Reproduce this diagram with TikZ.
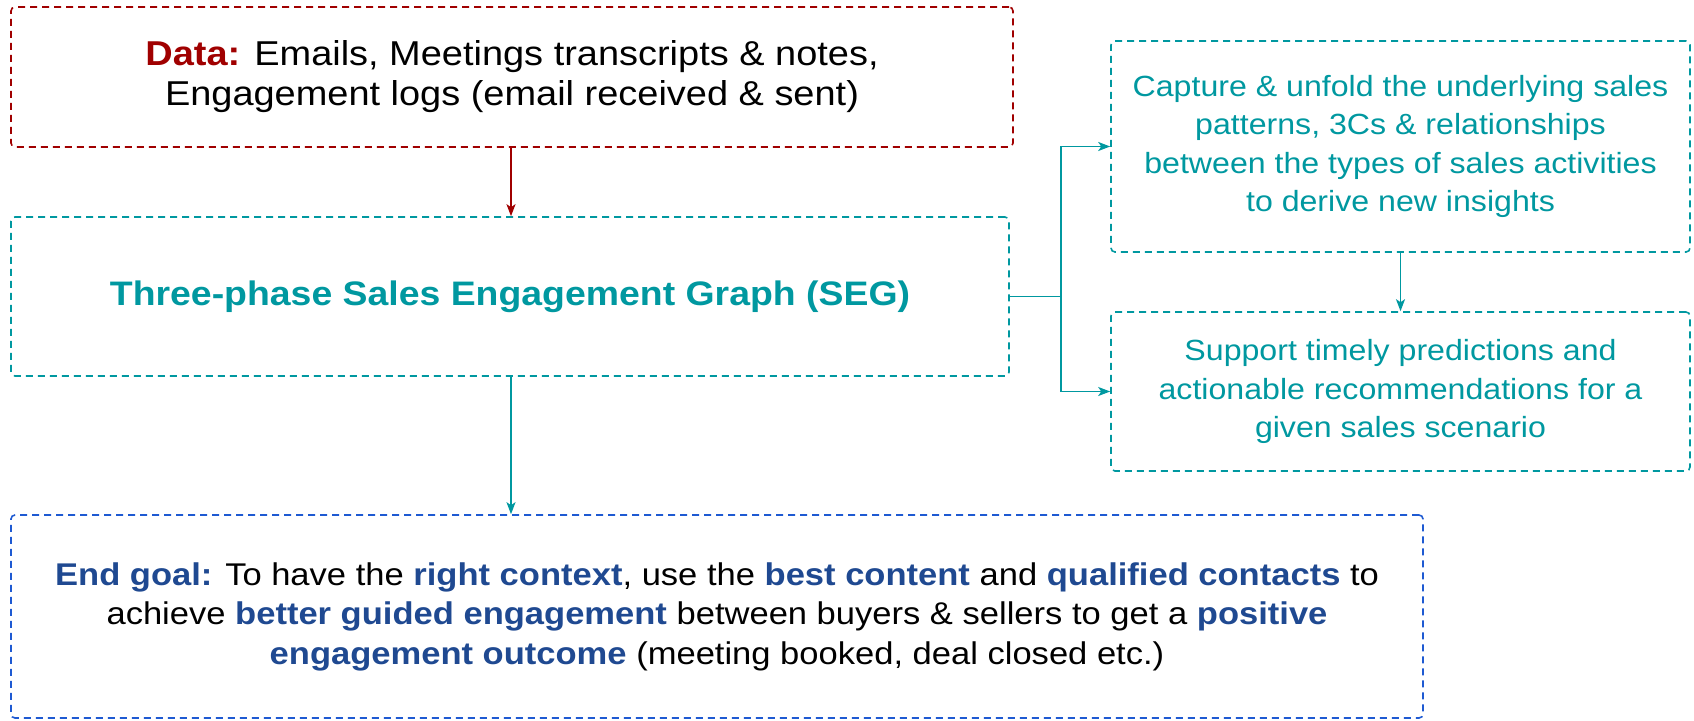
\documentclass[tikz,border=0pt]{standalone}
\usepackage{fontspec}
\setmainfont{Liberation Sans}[FakeStretch=1.1]
\usetikzlibrary{arrows.meta}

\definecolor{datared}{RGB}{160,0,0}
\definecolor{segteal}{RGB}{0,152,160}
\definecolor{goalblue}{RGB}{30,90,210}
\definecolor{goaltext}{RGB}{31,73,145}

\tikzset{
  box/.style={draw, rounded corners=4pt, line width=1.6pt,
    dash pattern=on 7pt off 5pt, align=center, inner sep=0pt},
  link/.style={line width=1.6pt, -{Stealth[length=12pt,width=9pt,inset=3pt]}},
}

\begin{document}
\begin{tikzpicture}[x=1pt,y=-1pt]
  \useasboundingbox (0,0) rectangle (1694,720);

  % input data
  \node[box, draw=datared, minimum width=1002pt, minimum height=140pt,
        font=\fontsize{34.5}{40}\selectfont] (data) at (512,77)
    {\textcolor{datared}{\textbf{Data:}} Emails, Meetings transcripts \& notes,\\
     Engagement logs (email received \& sent)};

  % the graph itself
  \node[box, draw=segteal, minimum width=998pt, minimum height=159pt,
        text=segteal, font=\fontsize{34}{44}\selectfont\bfseries] (seg) at (510,296.5)
    {Three-phase Sales Engagement Graph (SEG)};

  % what the graph is used for
  \node[box, draw=segteal, minimum width=579pt, minimum height=211pt,
        text=segteal, font=\fontsize{29.2}{38.5}\selectfont] (cap) at (1400.5,146.5)
    {Capture \& unfold the underlying sales\\
     patterns, 3Cs \& relationships\\
     between the types of sales activities\\
     to derive new insights};

  \node[box, draw=segteal, minimum width=579pt, minimum height=159pt,
        text=segteal, font=\fontsize{29.2}{38.5}\selectfont] (sup) at (1400.5,391.5)
    {Support timely predictions and\\
     actionable recommendations for a\\
     given sales scenario};

  % end goal
  \node[box, draw=goalblue, minimum width=1412pt, minimum height=203pt,
        font=\fontsize{31.4}{39.5}\selectfont] (goal) at (717,616.5)
    {\textcolor{goaltext}{\textbf{End goal:}} To have the \textcolor{goaltext}{\textbf{right context}}, use the \textcolor{goaltext}{\textbf{best content}} and \textcolor{goaltext}{\textbf{qualified contacts}} to\\
     achieve \textcolor{goaltext}{\textbf{better guided engagement}} between buyers \& sellers to get a \textcolor{goaltext}{\textbf{positive}}\\
     \textcolor{goaltext}{\textbf{engagement outcome}} (meeting booked, deal closed etc.)};

  % connectors
  \coordinate (fork) at (1061,296.5);
  \draw[link, datared] (data.south -| 511,0) -- (seg.north -| 511,0);
  \draw[link, segteal] (seg.south -| 511,0) -- (goal.north -| 511,0);
  \draw[line width=1.6pt, segteal] (seg.east) -- (fork);
  \draw[link, segteal] (fork) |- (cap.west);
  \draw[link, segteal] (fork) |- (sup.west);
  \draw[link, segteal] (cap.south) -- (sup.north);
\end{tikzpicture}
\end{document}
